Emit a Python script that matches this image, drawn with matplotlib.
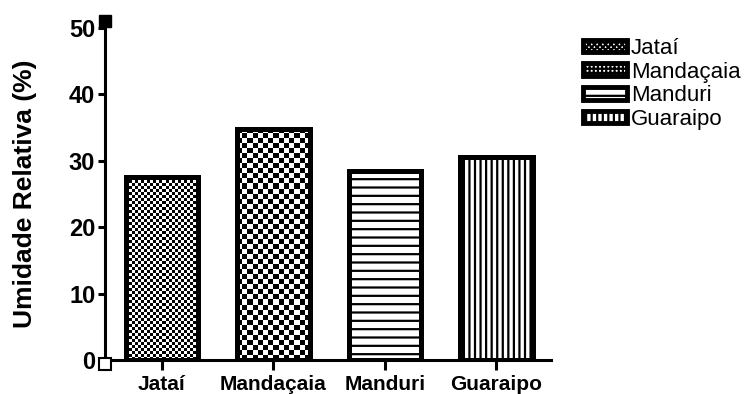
import numpy as np
import matplotlib
matplotlib.use("Agg")
import matplotlib.pyplot as plt
from matplotlib.patches import Patch

plt.rcParams["font.family"] = ["Liberation Sans", "DejaVu Sans"]
plt.rcParams["hatch.linewidth"] = 1.6

# data
categorias = ["Jataí", "Mandaçaia", "Manduri", "Guaraipo"]
umidade = [27.5, 34.8, 28.4, 30.6]
padroes = ["checker2", "checker4", "--", "|||"]
legenda_hatch = ["xxxxxx", "++++", "--", "|||"]


def checker(ax, bar, cell):
    # fill a bar with a checkerboard image, cell size in pixels
    x0, y0 = bar.get_x(), bar.get_y()
    x1, y1 = x0 + bar.get_width(), y0 + bar.get_height()
    (px0, py0), (px1, py1) = ax.transData.transform([(x0, y0), (x1, y1)])
    nx = max(1, int(round((px1 - px0) / cell)))
    ny = max(1, int(round((py1 - py0) / cell)))
    img = (np.add.outer(np.arange(ny), np.arange(nx)) % 2).astype(float)
    im = ax.imshow(img, cmap="gray", extent=(x0, x1, y0, y1), aspect="auto",
                   interpolation="nearest", zorder=1.5, vmin=0, vmax=1)
    im.set_clip_path(bar)


fig = plt.figure(figsize=(7.52, 3.94), dpi=100)
ax = fig.add_axes([0.1396, 0.0863, 0.593, 0.843])

x = np.arange(len(categorias))
ax.set_xlim(-0.51, 3.49)
ax.set_ylim(0, 50)

bars = []
for i, (v, p) in enumerate(zip(umidade, padroes)):
    if p.startswith("checker"):
        b = ax.bar(x[i], v, width=0.65, facecolor="none", edgecolor="black",
                   linewidth=3.6, zorder=2)[0]
    else:
        b = ax.bar(x[i], v, width=0.65, facecolor="white", edgecolor="black",
                   linewidth=3.6, hatch=p, zorder=2)[0]
    bars.append(b)

fig.canvas.draw()
checker(ax, bars[0], 3)
checker(ax, bars[1], 5)

ax.set_xticks(x)
ax.set_xticklabels(categorias, fontsize=15, fontweight="bold")
ax.set_yticks([0, 10, 20, 30, 40, 50])
ax.tick_params(axis="both", width=2.2)
ax.tick_params(axis="x", length=7, pad=4)
ax.tick_params(axis="y", length=5, pad=2, labelsize=17)
for t in ax.get_yticklabels():
    t.set_fontweight("bold")
ax.set_ylabel("Umidade Relativa (%)", fontsize=19, fontweight="bold", labelpad=23)

for s in ["top", "right"]:
    ax.spines[s].set_visible(False)
for s in ["left", "bottom"]:
    ax.spines[s].set_linewidth(2.2)

# axis end marks as in the original graph
ax.plot([-0.51], [51.0], marker="s", markersize=9, color="black",
        clip_on=False, zorder=5)
ax.plot([-0.51], [-0.6], marker="s", markersize=9, markerfacecolor="white",
        markeredgecolor="black", markeredgewidth=1.5, clip_on=False, zorder=5)

handles = [Patch(facecolor="white", edgecolor="black", linewidth=3.5, hatch=h)
           for h in legenda_hatch]
ax.legend(handles, categorias, loc="upper left",
          bbox_to_anchor=(583 / 752, 1 - 38 / 394), bbox_transform=fig.transFigure,
          frameon=False, fontsize=16, handlelength=2.0, handleheight=0.5,
          handletextpad=0.15, labelspacing=0.12, borderaxespad=0, borderpad=0)

fig.savefig("out.png", dpi=100)
